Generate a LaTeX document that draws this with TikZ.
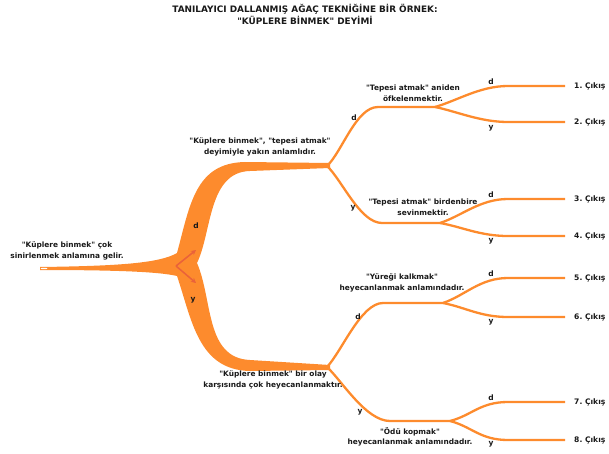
\documentclass[tikz,border=0pt]{standalone}
\usepackage{fontspec}
\newfontfamily\labelfont{DejaVu Sans}
\usetikzlibrary{arrows.meta,positioning}
\definecolor{branch}{RGB}{253,139,45}
\definecolor{pointer}{RGB}{234,98,58}
\definecolor{ink}{RGB}{25,25,25}
\tikzset{
  >={Stealth[length=5pt,width=5pt]},
  twig/.style={draw=branch,line width=2.3pt},
  note/.style={font=\labelfont\fontsize{7.4}{10.5}\selectfont\bfseries,text=ink,align=center,inner sep=0pt},
  pick/.style={font=\labelfont\fontsize{7.5}{8}\selectfont\bfseries,text=ink,inner sep=0pt},
  exit/.style={font=\labelfont\fontsize{7.6}{8}\selectfont\bfseries,text=ink,anchor=west,inner sep=0pt,inner xsep=9pt},
  headline/.style={font=\labelfont\fontsize{8.9}{12}\selectfont\bfseries,text=ink,align=center},
}

\begin{document}
\begin{tikzpicture}[x=1pt,y=-1pt]
  \useasboundingbox (0,0) rectangle (609,454);
  \node[headline] (title) at (305,14) {TANILAYICI DALLANMIŞ AĞAÇ TEKNİĞİNE BİR ÖRNEK:\\"KÜPLERE BİNMEK" DEYİMİ};
  % trunk with the two thick arms
  \fill[branch] (40,267) .. controls (120,266) and (160,263) .. (177,253)
    .. controls (190,205) and (195,163) .. (245,162) -- (330,163) -- (330,168) -- (250,171)
    .. controls (208,172) and (212,232) .. (197,263)
    .. controls (213,300) and (205,358) .. (250,360) -- (330,365) -- (330,370) -- (250,371)
    .. controls (198,370) and (192,320) .. (177,276)
    .. controls (160,272) and (120,270) .. (40,270) -- cycle;
  \fill[white] (44,268.5) ellipse (3.5 and 0.7);
  \coordinate (split) at (176,266);
  \coordinate (up) at (196,250);
  \coordinate (down) at (196,283);
  \draw[->,pointer,line width=1.5pt] (split) -- (up);
  \draw[->,pointer,line width=1.5pt] (split) -- (down);
  \node[pick] at (196,226) {d};
  \node[pick] at (193,300) {y};
  % second level
  \coordinate (fa) at (327,166);
  \coordinate (fb) at (327,367);
  \coordinate (k1) at (435,107);
  \coordinate (k2) at (440,223);
  \coordinate (k3) at (443,303);
  \coordinate (k4) at (450,421);
  \draw[twig] (fa) .. controls +(15,-14) and +(-22,0) .. (378,107) -- (k1);
  \draw[twig] (fa) .. controls +(15,14) and +(-22,0) .. (382,223) -- (k2);
  \draw[twig] (fb) .. controls +(15,-16) and +(-22,0) .. (383,303) -- (k3);
  \draw[twig] (fb) .. controls +(15,14) and +(-24,0) .. (390,421) -- (k4);
  \node[pick] at (354,118) {d};
  \node[pick] at (353,208) {y};
  \node[pick] at (358,317) {d};
  \node[pick] at (360,412) {y};
  % exits
  \foreach \n/\f/\fy/\y/\c/\cy in {1/k1/107/86/d/82,2/k1/107/122/y/128,
      3/k2/223/199/d/195,4/k2/223/236/y/241,5/k3/303/278/d/274,6/k3/303/317/y/322,
      7/k4/421/402/d/398,8/k4/421/440/y/444}{
    \node[exit] (out\n) at (565,\y) {\n.\ Çıkış};
    \draw[twig] (\f) .. controls +(22,{(\y-\fy)*0.3}) and +(-28,0) .. (508,\y) -- (out\n.west);
    \node[pick] at (491,\cy) {\c};
  }
  % statements
  \node[note] (s0) at (67,251) {"Küplere binmek" çok\\sinirlenmek anlamına gelir.};
  \node[note] (s1) at (260,147) {"Küplere binmek", "tepesi atmak"\\deyimiyle yakın anlamlıdır.};
  \node[note] (s2) at (273,380) {"Küplere binmek" bir olay\\karşısında çok heyecanlanmaktır.};
  \node[note] (s11) at (413,93) {"Tepesi atmak" aniden\\öfkelenmektir.};
  \node[note] (s12) at (423,207) {"Tepesi atmak" birdenbire\\sevinmektir.};
  \node[note] (s21) at (402,283) {"Yüreği kalkmak"\\heyecanlanmak anlamındadır.};
  \node[note] (s22) at (410,437) {"Ödü kopmak"\\heyecanlanmak anlamındadır.};
\end{tikzpicture}
\end{document}
